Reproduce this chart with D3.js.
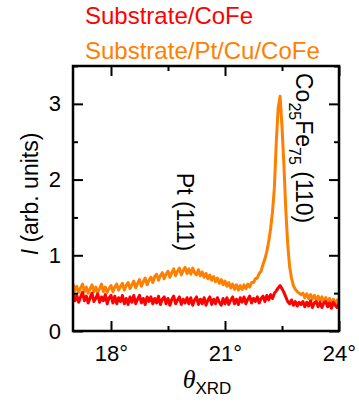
<!DOCTYPE html>
<html>
<head>
<meta charset="utf-8">
<script src="https://cdn.jsdelivr.net/npm/d3@7"></script>
<style>
    body { margin: 0; background: #fff; }
    svg { display: block; font-family: "Liberation Sans", Arial, sans-serif; }
</style>
</head>
<body>
<div id="chart"></div>
<script>
// measured grid: 17.00 .. 24.00 deg in 0.05 deg steps
var thetaStart = 17, thetaStep = 0.05;

// Substrate/Pt/Cu/CoFe (orange)
var orangeI = [
    0.62, 0.53, 0.59, 0.51, 0.57, 0.62, 0.52, 0.58, 0.50, 0.56, 0.61, 0.52, 0.58, 0.51, 0.56, 0.62, 0.52, 0.58, 0.51, 0.56, 0.60,
    0.52, 0.58, 0.62, 0.54, 0.59, 0.63, 0.54, 0.60, 0.64, 0.56, 0.61, 0.66, 0.57, 0.63, 0.68, 0.59, 0.65, 0.70, 0.61, 0.67,
    0.71, 0.64, 0.72, 0.75, 0.67, 0.73, 0.77, 0.69, 0.75, 0.79, 0.71, 0.77, 0.82, 0.73, 0.79, 0.83, 0.74, 0.80, 0.84, 0.76,
    0.82, 0.75, 0.83, 0.77, 0.74, 0.81, 0.73, 0.78, 0.71, 0.76, 0.69, 0.74, 0.67, 0.72, 0.65, 0.70, 0.63, 0.68, 0.61, 0.66,
    0.59, 0.64, 0.57, 0.62, 0.55, 0.61, 0.54, 0.60, 0.55, 0.61, 0.56, 0.62, 0.58, 0.64, 0.64, 0.69, 0.70, 0.76, 0.79, 0.88,
    0.95, 1.05, 1.18, 1.35, 1.57, 1.90, 2.50, 2.95, 3.10, 2.70, 2.20, 1.60, 1.15, 0.85, 0.70, 0.60, 0.55, 0.52, 0.50, 0.48,
    0.50, 0.44, 0.49, 0.43, 0.48, 0.42, 0.47, 0.41, 0.46, 0.40, 0.45, 0.39, 0.44, 0.38, 0.43, 0.37, 0.42, 0.36, 0.41, 0.40
];

// Substrate/CoFe (red)
var redI = [
    0.50, 0.40, 0.47, 0.38, 0.45, 0.51, 0.40, 0.46, 0.37, 0.44, 0.50, 0.39, 0.43, 0.49, 0.38, 0.45, 0.40, 0.48, 0.36, 0.44, 0.47,
    0.37, 0.46, 0.36, 0.44, 0.39, 0.47, 0.36, 0.43, 0.35, 0.45, 0.38, 0.47, 0.36, 0.42, 0.47, 0.37, 0.43, 0.35, 0.45, 0.39,
    0.45, 0.36, 0.43, 0.37, 0.46, 0.35, 0.42, 0.45, 0.36, 0.43, 0.34, 0.42, 0.46, 0.36, 0.41, 0.45, 0.35, 0.42, 0.37, 0.44,
    0.36, 0.44, 0.34, 0.41, 0.45, 0.35, 0.42, 0.36, 0.44, 0.34, 0.41, 0.45, 0.35, 0.42, 0.36, 0.44, 0.38, 0.34, 0.43, 0.36,
    0.44, 0.35, 0.41, 0.45, 0.36, 0.42, 0.35, 0.44, 0.38, 0.45, 0.36, 0.42, 0.46, 0.37, 0.43, 0.39, 0.45, 0.37, 0.43, 0.46,
    0.39, 0.47, 0.41, 0.48, 0.43, 0.50, 0.53, 0.57, 0.60, 0.56, 0.51, 0.45, 0.39, 0.36, 0.41, 0.34, 0.39, 0.33, 0.38, 0.35,
    0.39, 0.32, 0.38, 0.33, 0.40, 0.31, 0.37, 0.39, 0.32, 0.38, 0.31, 0.37, 0.39, 0.32, 0.37, 0.30, 0.38, 0.34, 0.31, 0.37
];

var xMajor = [18, 21, 24];
var xMinor = [19.5, 22.5];
var yMajor = [0, 1, 2, 3];
var yMinor = [0.5, 1.5, 2.5, 3.5];

var width = 359, height = 403;
var plotLeft = 73, plotRight = 339, plotTop = 66, plotBottom = 331;

var svg = d3.select("#chart").append("svg")
    .attr("width", width)
    .attr("height", height);

var x = d3.scaleLinear().domain([17, 24]).range([plotLeft, plotRight]);
var y = d3.scaleLinear().domain([0, 3.5]).range([plotBottom, plotTop]);

function toPoints(vals) {
    return vals.map(function (v, i) { return { t: thetaStart + i * thetaStep, v: v }; });
}

svg.append("defs").append("clipPath").attr("id", "plotClip")
    .append("rect").attr("x", plotLeft).attr("y", plotTop)
    .attr("width", plotRight - plotLeft).attr("height", plotBottom - plotTop);

var line = d3.line()
    .x(function (d) { return x(d.t); })
    .y(function (d) { return y(d.v); });

var curves = svg.append("g").attr("clip-path", "url(#plotClip)");
curves.append("path")
    .datum(toPoints(orangeI))
    .attr("fill", "none")
    .attr("stroke", "#ff8000")
    .attr("stroke-width", 3)
    .attr("stroke-linejoin", "round")
    .attr("d", line);
curves.append("path")
    .datum(toPoints(redI))
    .attr("fill", "none")
    .attr("stroke", "#ff0000")
    .attr("stroke-width", 3)
    .attr("stroke-linejoin", "round")
    .attr("d", line);

// axes: inward ticks on all four sides
function styleAxis(g) {
    g.select(".domain").remove();
    g.selectAll(".tick line").attr("stroke", "#000").attr("stroke-width", 2);
    g.selectAll(".tick text").attr("fill", "#000").style("font-size", "22px")
        .style("font-family", "'Liberation Sans', Arial, sans-serif");
}

svg.append("g").attr("transform", "translate(0," + plotBottom + ")")
    .call(d3.axisBottom(x).tickValues(xMajor).tickSize(-10).tickPadding(14)
        .tickFormat(function (d) { return d + "\u00b0"; }))
    .call(styleAxis);
svg.append("g").attr("transform", "translate(0," + plotBottom + ")")
    .call(d3.axisBottom(x).tickValues(xMinor).tickSize(-5).tickFormat(""))
    .call(styleAxis);
svg.append("g").attr("transform", "translate(0," + plotTop + ")")
    .call(d3.axisTop(x).tickValues(xMajor).tickSize(-10).tickFormat(""))
    .call(styleAxis);
svg.append("g").attr("transform", "translate(0," + plotTop + ")")
    .call(d3.axisTop(x).tickValues(xMinor).tickSize(-5).tickFormat(""))
    .call(styleAxis);

svg.append("g").attr("transform", "translate(" + plotLeft + ",0)")
    .call(d3.axisLeft(y).tickValues(yMajor).tickSize(-10).tickPadding(12)
        .tickFormat(d3.format("d")))
    .call(styleAxis);
svg.append("g").attr("transform", "translate(" + plotLeft + ",0)")
    .call(d3.axisLeft(y).tickValues(yMinor).tickSize(-5).tickFormat(""))
    .call(styleAxis);
svg.append("g").attr("transform", "translate(" + plotRight + ",0)")
    .call(d3.axisRight(y).tickValues(yMajor).tickSize(-10).tickFormat(""))
    .call(styleAxis);
svg.append("g").attr("transform", "translate(" + plotRight + ",0)")
    .call(d3.axisRight(y).tickValues(yMinor).tickSize(-5).tickFormat(""))
    .call(styleAxis);

// frame
svg.append("rect")
    .attr("x", plotLeft).attr("y", plotTop)
    .attr("width", plotRight - plotLeft).attr("height", plotBottom - plotTop)
    .attr("fill", "none").attr("stroke", "#000").attr("stroke-width", 2.5);

// legend-like titles
svg.append("text").attr("x", 85).attr("y", 24)
    .attr("fill", "#ff0000").style("font-size", "24px")
    .text("Substrate/CoFe");
svg.append("text").attr("x", 85).attr("y", 59)
    .attr("fill", "#ff8000").style("font-size", "24px")
    .text("Substrate/Pt/Cu/CoFe");

// x label
var xl = svg.append("text").attr("x", 207).attr("y", 388)
    .attr("text-anchor", "middle").attr("fill", "#000");
xl.append("tspan").style("font-family", "'Liberation Serif', 'Times New Roman', serif")
    .style("font-style", "italic").style("font-size", "26px").text("\u03b8");
xl.append("tspan").attr("dy", 6).style("font-size", "17px").text("XRD");

// y label
var yl = svg.append("text")
    .attr("transform", "translate(38,194) rotate(-90)")
    .attr("text-anchor", "middle").attr("fill", "#000")
    .style("font-size", "23px");
yl.append("tspan").style("font-style", "italic").text("I");
yl.append("tspan").text(" (arb. units)");

// peak annotations
svg.append("text")
    .attr("transform", "translate(177,212) rotate(90)")
    .attr("text-anchor", "middle").attr("fill", "#000")
    .style("font-size", "23px")
    .text("Pt (111)");

var co = svg.append("text")
    .attr("transform", "translate(296,73) rotate(90)")
    .attr("text-anchor", "start").attr("fill", "#000")
    .style("font-size", "23px");
co.append("tspan").text("Co");
co.append("tspan").attr("dy", 7).style("font-size", "16px").text("25");
co.append("tspan").attr("dy", -7).text("Fe");
co.append("tspan").attr("dy", 7).style("font-size", "16px").text("75");
co.append("tspan").attr("dy", -7).text(" (110)");
</script>
</body>
</html>
